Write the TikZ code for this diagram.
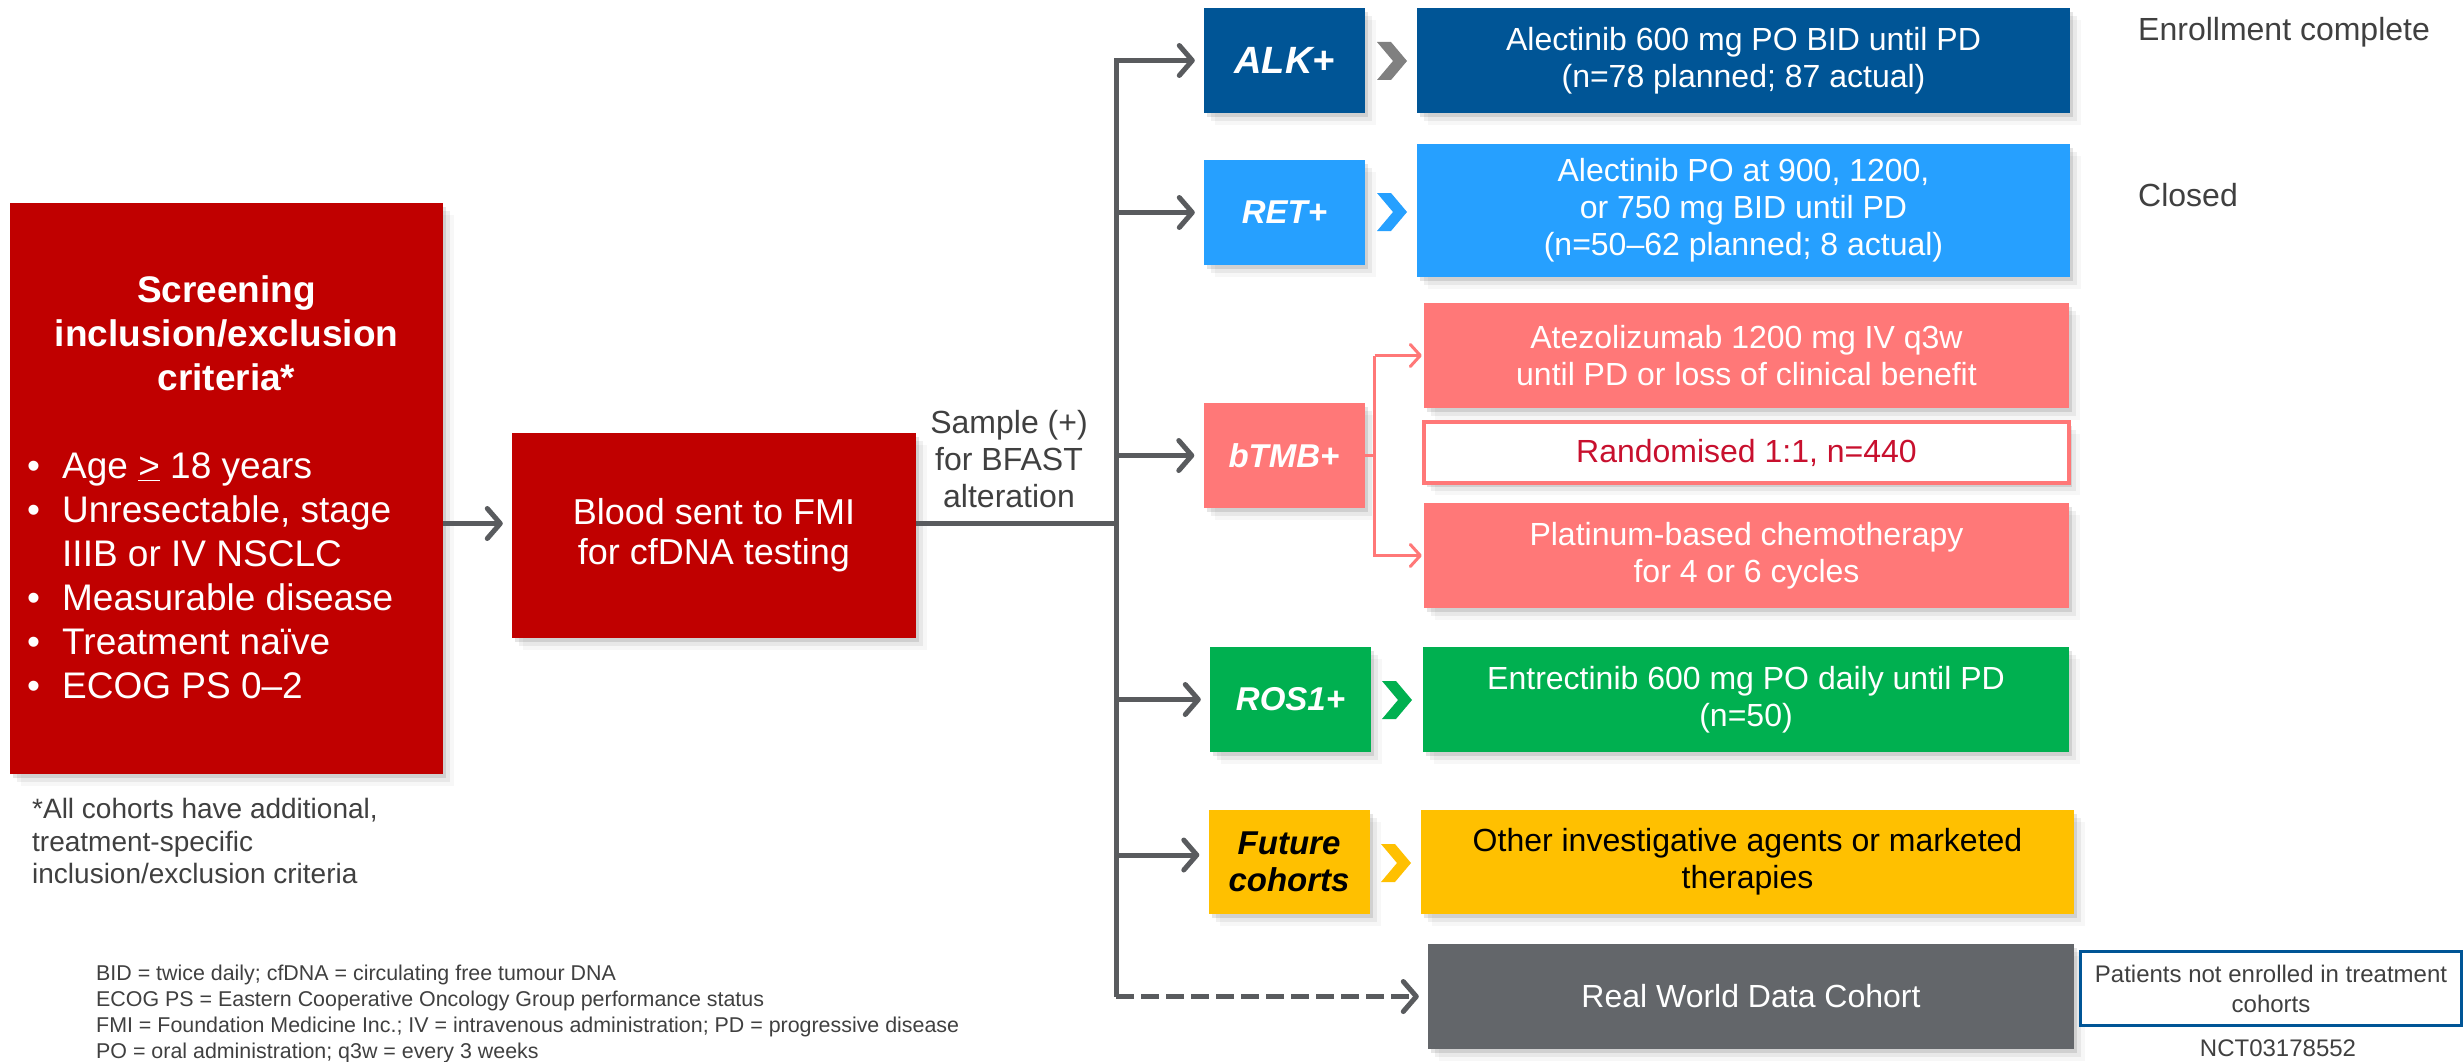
\documentclass[tikz,border=0pt]{standalone}
\usepackage{fontspec}
\setmainfont{Liberation Sans}
\usetikzlibrary{arrows.meta,shadows}
\definecolor{dred}{HTML}{C00000}
\definecolor{alkblue}{HTML}{005596}
\definecolor{retblue}{HTML}{26A0FF}
\definecolor{salmon}{HTML}{FF7878}
\definecolor{crimson}{HTML}{C8102E}
\definecolor{rosgreen}{HTML}{00B050}
\definecolor{futyellow}{HTML}{FFC000}
\definecolor{rwdgray}{HTML}{63666A}
\definecolor{conngray}{HTML}{595B5E}
\definecolor{chevgray}{HTML}{808080}
\definecolor{tgray}{HTML}{404040}
\newcommand\fsz[2]{\fontsize{#1}{#2}\selectfont}
\newcommand\mychev[3]{\fill[#3] (#1,#2) -- ++(14,0) -- ++(16,19) -- ++(-16,19) -- ++(-14,0) -- ++(16,-19) -- cycle;}
\begin{document}
\begin{tikzpicture}[x=1pt,y=-1pt,
  shad/.style={general shadow={shadow xshift=3pt,shadow yshift=-4pt,opacity=.10,fill=black},
               general shadow={shadow xshift=7pt,shadow yshift=-8pt,opacity=.06,fill=black},
               general shadow={shadow xshift=11pt,shadow yshift=-12pt,opacity=.03,fill=black}},
  box/.style={rectangle, inner sep=0pt, align=center, text=white, font=\fsz{32}{37}, shad},
  lab/.style={box, minimum width=161pt, minimum height=105pt, font=\fsz{33}{37}\bfseries\itshape},
  tbox/.style={box, minimum height=105pt},
  conn/.style={draw=conngray, line width=5pt},
  tip/.style={-{Straight Barb[length=13pt,width=30pt,round]}, shorten >=9pt},
  pinkl/.style={draw=salmon, line width=3pt},
  ptip/.style={-{Straight Barb[length=10pt,width=22pt,round]}, shorten >=2pt},
  plain/.style={inner sep=0pt, text=tgray}
]
\useasboundingbox (0,0) rectangle (2463,1062);
\fill[white] (0,0) rectangle (2463,1062);

% left column
\node[box, fill=dred, minimum width=433pt, minimum height=571pt] (scr) at (226.5,488.5) {};
\node[inner sep=0pt, text=white, font=\fsz{37}{44}\bfseries, align=center] (scrt) at (226.5,333) {Screening\\inclusion/exclusion\\criteria*};
\node[inner sep=0pt, text=white, font=\fsz{37}{44}, anchor=west] (scrb) at (27,580) {\begin{tabular}{@{}p{35pt}@{}l@{}}
\textbullet & Age \underline{>} 18 years\\
\textbullet & Unresectable, stage\\
 & IIIB or IV NSCLC\\
\textbullet & Measurable disease\\
\textbullet & Treatment na\"ive\\
\textbullet & ECOG PS 0--2
\end{tabular}};
\node[plain, font=\fsz{28}{32.5}, anchor=west, align=left] (note) at (32,841) {*All cohorts have additional,\\treatment-specific\\inclusion/exclusion criteria};

\node[box, fill=dred, minimum width=404pt, minimum height=205pt, font=\fsz{36}{40}] (blood) at (714,535.5) {Blood sent to FMI\\for cfDNA testing};
\node[plain, font=\fsz{32}{37}, align=center] (samp) at (1009,459) {Sample (+)\\for BFAST\\alteration};

% cohort labels
\node[lab, fill=alkblue, font=\fsz{38}{40}\bfseries\itshape] (alk) at (1284.5,60.5) {ALK+};
\node[lab, fill=retblue] (ret) at (1284.5,212.5) {RET+};
\node[lab, fill=salmon] (btmb) at (1284,455.5) {bTMB+};
\node[lab, fill=rosgreen] (ros) at (1290.5,699.5) {ROS1+};
\node[lab, fill=futyellow, text=black, minimum height=104pt] (fut) at (1289,862) {Future\\cohorts};

% chevrons
\mychev{1377}{42}{chevgray}
\mychev{1377}{193}{retblue}
\mychev{1382}{681}{rosgreen}
\mychev{1381}{844}{futyellow}

% treatment boxes
\node[tbox, fill=alkblue, minimum width=653pt] (alec) at (1743.5,60.5) {Alectinib 600 mg PO BID until PD\\(n=78 planned; 87 actual)};
\node[tbox, fill=retblue, minimum width=653pt, minimum height=133pt] (rett) at (1743.5,210.5) {Alectinib PO at 900, 1200,\\or 750 mg BID until PD\\(n=50--62 planned; 8 actual)};
\node[tbox, fill=salmon, minimum width=645pt] (atezo) at (1746.5,355.5) {Atezolizumab 1200 mg IV q3w\\until PD or loss of clinical benefit};
\node[box, fill=white, draw=salmon, line width=4pt, text=crimson, minimum width=645pt, minimum height=61pt] (rand) at (1746.5,452.5) {Randomised 1:1, n=440};
\node[tbox, fill=salmon, minimum width=645pt] (plat) at (1746.5,555.5) {Platinum-based chemotherapy\\for 4 or 6 cycles};
\node[tbox, fill=rosgreen, minimum width=646pt] (entr) at (1746,699.5) {Entrectinib 600 mg PO daily until PD\\(n=50)};
\node[tbox, fill=futyellow, text=black, minimum width=653pt, minimum height=104pt] (other) at (1747.5,862) {Other investigative agents or marketed\\therapies};
\node[tbox, fill=rwdgray, minimum width=646pt] (rwd) at (1751,996.5) {Real World Data Cohort};

% right notes
\node[plain, anchor=west, font=\fsz{32}{37}] (enr) at (2138,32) {Enrollment complete};
\node[plain, anchor=west, font=\fsz{32}{37}] (clo) at (2138,195) {Closed};
\node[rectangle, draw=alkblue, line width=3pt, fill=white, minimum width=381pt, minimum height=74pt, inner sep=0pt, align=center, text=tgray, font=\fsz{24}{30}] (pat) at (2271,988.5) {Patients not enrolled in treatment\\cohorts};
\node[plain, font=\fsz{24}{28}] (nct) at (2278,1048) {NCT03178552};

\node[plain, anchor=west, align=left, font=\fsz{21.4}{25.7}] (abbr) at (96,1014) {BID = twice daily; cfDNA = circulating free tumour DNA\\ECOG PS = Eastern Cooperative Oncology Group performance status\\FMI = Foundation Medicine Inc.; IV = intravenous administration; PD = progressive disease\\PO = oral administration; q3w = every 3 weeks};

% connectors
\coordinate (T) at (1116,0);
\coordinate (bw) at ([yshift=12pt]blood.west);
\coordinate (be) at ([yshift=12pt]blood.east);
\coordinate (fw) at ([yshift=7pt]fut.west);
\draw[conn, tip] (bw -| scr.east) -- (bw);
\draw[conn] (be) -- (be -| T);
\draw[conn, tip] (T |- rwd.west) -- (T |- alk.west) -- (alk.west);
\draw[conn, tip] (T |- ret.west) -- (ret.west);
\draw[conn, tip] (T |- btmb.west) -- (btmb.west);
\draw[conn, tip] (T |- ros.west) -- (ros.west);
\draw[conn, tip] (T |- fw) -- (fw);
\draw[conn, tip, dash pattern=on 18pt off 7pt] (T |- rwd.west) -- (rwd.west);

% bTMB bracket
\coordinate (bk) at ([xshift=10pt]btmb.east);
\draw[pinkl] (btmb.east) -- (bk);
\draw[pinkl, ptip] (bk |- atezo.west) -- (atezo.west);
\draw[pinkl, ptip] (bk |- atezo.west) -- (bk |- plat.west) -- (plat.west);
\end{tikzpicture}
\end{document}
